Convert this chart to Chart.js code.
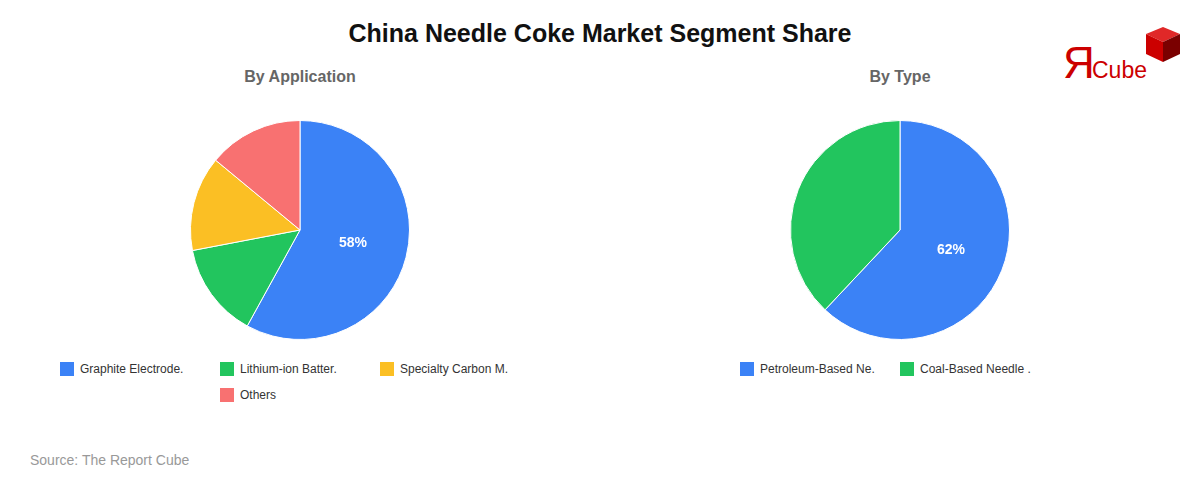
<!DOCTYPE html>
<html><head><meta charset="utf-8">
<script src="https://cdn.jsdelivr.net/npm/chart.js@4"></script>
<style>
body{margin:0;width:1200px;height:480px;background:#fff;font-family:"Liberation Sans",Arial,sans-serif;position:relative;overflow:hidden}
#title{position:absolute;top:19px;left:0;width:1200px;text-align:center;font-size:25px;font-weight:bold;color:#111}
.sub{position:absolute;top:68px;font-size:16px;font-weight:bold;color:#666;text-align:center;width:300px}
.box{position:absolute;top:120px;width:300px;height:220px}
.leg{position:absolute;font-size:12px;color:#333;width:500px}
.it{position:absolute;height:16px;line-height:16px;padding-left:20px;white-space:nowrap}
.sw{position:absolute;left:0;top:1px;width:14px;height:14px}
#src{position:absolute;left:30px;top:452px;font-size:14px;color:#999}
#logo{position:absolute;left:1060px;top:26px;width:125px;height:56px}
</style></head><body>
<div id="title">China Needle Coke Market Segment Share</div>
<div class="sub" style="left:150px">By Application</div>
<div class="sub" style="left:750px">By Type</div>
<div class="box" style="left:150px"><canvas id="c1"></canvas></div>
<div class="box" style="left:750px"><canvas id="c2"></canvas></div>
<div class="leg" id="l1" style="left:60px;top:361px"></div>
<div class="leg" id="l2" style="left:740px;top:361px"></div>
<div id="src">Source: The Report Cube</div>
<svg id="logo" viewBox="0 0 125 56">
<text x="3" y="52" font-family="Liberation Sans,Arial" font-size="44" fill="#c00">Я</text>
<text x="32" y="52" font-family="Liberation Sans,Arial" font-size="23" fill="#c00">Cube</text>
<polygon points="103,1 120,8 103,16 86,8" fill="#e02828"/>
<polygon points="86,8 103,16 103,36 86,28" fill="#c00"/>
<polygon points="103,16 120,8 120,28 103,36" fill="#7a0000"/>
</svg>
<script>
const appLabels=["Graphite Electrode.","Lithium-ion Batter.","Specialty Carbon M.","Others"];
const appValues=[58,14,14,14];
const typeLabels=["Petroleum-Based Ne.","Coal-Based Needle ."];
const typeValues=[62,38];
const colors=["#3b82f6","#22c55e","#fbbf24","#f87171"];
const pctPlugin={id:'pct',afterDatasetsDraw(ch){const ctx=ch.ctx;const m=ch.getDatasetMeta(0);const d=ch.data.datasets[0].data;const t=d.reduce((a,b)=>a+b,0);
m.data.forEach((a,i)=>{const p=d[i]/t*100;if(p<50)return;const pos=a.tooltipPosition();ctx.save();ctx.fillStyle='#fff';ctx.font='bold 14px "Liberation Sans",Arial';ctx.textAlign='center';ctx.textBaseline='middle';ctx.fillText(Math.round(p)+'%',pos.x,pos.y);ctx.restore();});}};
function mk(id,lid,labels,values){new Chart(document.getElementById(id),{type:'pie',data:{labels,datasets:[{data:values,backgroundColor:colors.slice(0,values.length),borderColor:'#fff',borderWidth:1}]},
options:{responsive:true,maintainAspectRatio:false,animation:false,plugins:{tooltip:{enabled:false},legend:{display:false}}},plugins:[pctPlugin]});
const L=document.getElementById(lid);const n=labels.length;labels.forEach((s,i)=>{const row=Math.floor(i/3);const inRow=Math.min(3,n-row*3);const off=row>0?(3-inRow)*80:0;const e=document.createElement('div');e.className='it';e.style.left=(off+(i%3)*160)+'px';e.style.top=row*26+'px';e.innerHTML='<span class="sw" style="background:'+colors[i]+'"></span>'+s;L.appendChild(e);});}
mk('c1','l1',appLabels,appValues);mk('c2','l2',typeLabels,typeValues);
</script></body></html>
